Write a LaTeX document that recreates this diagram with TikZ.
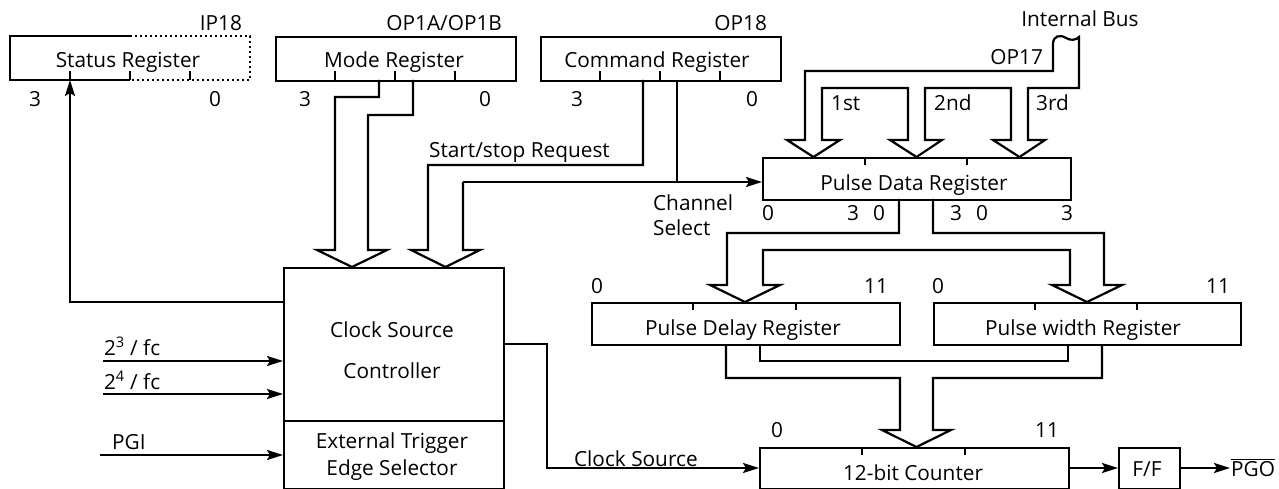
\documentclass[tikz,border=0pt]{standalone}
\usepackage{fontspec}
\setmainfont{Open Sans}
\usetikzlibrary{arrows.meta}
\newcommand\fs{\fontsize{20.8}{24}\selectfont}
\begin{document}
\begin{tikzpicture}[x=1pt,y=-1pt,line width=2.2pt,line join=miter,
  every node/.style={inner sep=0pt,font=\fs},
  reg/.style={draw,anchor=north west,minimum height=44pt},
  lab/.style={anchor=base},
  labw/.style={anchor=base west},
  labe/.style={anchor=base east},
  arr/.style={-{Stealth[length=16pt,width=10pt,inset=3pt]}},
  dots/.style={dash pattern=on 2pt off 3pt}]
\useasboundingbox (0,0) rectangle (1279,489);

% ---------- Status register ----------
\node[anchor=north west,minimum width=240pt,minimum height=44pt] (sr) at (10,36) {};
\draw (130,36) -- (10,36) -- (10,80) -- (130,80);
\draw[dots] (130,36) -- (250,36) -- (250,80) -- (130,80);
\foreach \x in {70,130,190} \draw (\x,80) -- (\x,71);
\node[lab] (srt) at (128,68) {Status Register};
\node[labe] (ip18) at (243,31) {IP18};
\node[lab] (sr3) at (35,107) {3};
\node[lab] (sr0) at (215,107) {0};

% ---------- Mode register ----------
\node[reg,minimum width=240pt] (mr) at (275,36) {};
\foreach \x in {335,395,455} \draw (\x,80) -- (\x,71);
\node[lab] (mrt) at (394,68) {Mode Register};
\node[labe] (op1) at (503,31) {OP1A/OP1B};
\node[lab] (mr3) at (305,107) {3};
\node[lab] (mr0) at (485,107) {0};

% ---------- Command register ----------
\node[reg,minimum width=240pt] (cr) at (540,36) {};
\foreach \x in {600,660,720} \draw (\x,80) -- (\x,71);
\node[lab] (crt) at (657,68) {Command Register};
\node[labe] (op18) at (768,31) {OP18};
\node[lab] (cr3) at (577,107) {3};
\node[lab] (cr0) at (752,107) {0};

% ---------- Clock source controller ----------
\node[draw,anchor=north west,minimum width=220pt,minimum height=221pt] (csc) at (283,267) {};
\draw (283,421) -- (503,421);
\node[lab] (csc1) at (392,337) {Clock Source};
\node[lab] (csc2) at (392,378) {Controller};
\node[lab] (ets1) at (392,448) {External Trigger};
\node[lab] (ets2) at (392,475) {Edge Selector};

% ---------- Pulse data register ----------
\node[reg,minimum width=308pt,minimum height=42pt] (pdr) at (762,157) {};
\foreach \x in {865,967} \draw (\x,157) -- (\x,165);
\node[lab] (pdrt) at (914,191) {Pulse Data Register};
\foreach \x/\t [count=\i] in {768/0,853/3,879/0,956/3,982/0,1067/3}
  \node[lab] (pn\i) at (\x,221) {\t};

% ---------- Pulse delay / width registers ----------
\node[reg,minimum width=308pt,minimum height=42pt] (pdl) at (591,302) {};
\foreach \x in {693,796} \draw (\x,302) -- (\x,310);
\node[lab] (pdlt) at (743,335) {Pulse Delay Register};
\node[lab] (pdl0) at (597,293) {0};
\node[lab] (pdl11) at (876,293) {11};

\node[reg,minimum width=307pt,minimum height=42pt] (pwr) at (933,302) {};
\foreach \x in {1035,1137} \draw (\x,302) -- (\x,310);
\node[lab] (pwrt) at (1083,335) {Pulse width Register};
\node[lab] (pwr0) at (938,293) {0};
\node[lab] (pwr11) at (1218,293) {11};

% ---------- Counter and F/F ----------
\node[reg,minimum width=309pt,minimum height=41pt] (cnt) at (759,447) {};
\foreach \x in {862,965} \draw (\x,447) -- (\x,455);
\node[lab] (cntt) at (913,480) {12-bit Counter};
\node[lab] (cnt0) at (777,437) {0};
\node[lab] (cnt11) at (1047,437) {11};

\node[reg,minimum width=61pt,minimum height=41pt] (ff) at (1118,447) {};
\node[lab] (fft) at (1147,476) {F/F};
\node[labw] (pgo) at (1230,476) {$\overline{\mbox{PGO}}$};
\draw[arr] (1068,468) -- (ff.west |- 0,468);
\draw[arr] (1179,468) -- (pgo.west |- 0,468);

% ---------- Mode register bus ----------
\draw (379,80) -- (379,97) -- (335,97) -- (335,250) -- (317,250) -- (352,267)
      -- (387,250) -- (368,250) -- (368,115) -- (413,115) -- (413,80);

% ---------- Command register bus ----------
\draw (643,80) -- (643,165) -- (428,165) -- (428,250) -- (411,250) -- (445.5,267)
      -- (480,250) -- (463,250) -- (463,182);
\draw[arr] (463,182) -- (pdr.west |- 0,182);
\draw (677,80) -- (677,182);
\node[labw] (ssr) at (428,158) {Start/stop Request};
\node[labw] (chs1) at (652,211) {Channel};
\node[labw] (chs2) at (652,235) {Select};

% ---------- Status feedback ----------
\draw[arr] (csc.west |- 0,302) -- (70,302) -- (70,80);

% ---------- Inputs ----------
\draw[arr] (103,361) -- (csc.west |- 0,361);
\draw[arr] (103,394) -- (csc.west |- 0,394);
\draw[arr] (100,455) -- (csc.west |- 0,455);
\node[labw] (in1) at (103,355) {2\textsuperscript{3} / fc};
\node[labw] (in2) at (103,389) {2\textsuperscript{4} / fc};
\node[labw] (in3) at (111,449) {PGI};

% ---------- Clock source output ----------
\draw[arr] (503,344) -- (547,344) -- (547,468) -- (cnt.west |- 0,468);
\node[labw] (cslab) at (573,466) {Clock Source};

% ---------- Internal bus into pulse data register ----------
\draw (805,140) -- (805,71) -- (1053,71) -- (1053,44)
      .. controls (1053,36) and (1060,34) .. (1066,38)
      .. controls (1071,41) and (1076,40) .. (1079,37)
      -- (1079,88) -- (1028,88) -- (1028,140) -- (1045,140) -- (1019.5,157)
      -- (993,140) -- (1011,140) -- (1011,88) -- (925,88) -- (925,140)
      -- (942,140) -- (916.5,157) -- (890,140) -- (908,140) -- (908,88)
      -- (822,88) -- (822,140) -- (840,140) -- (813.5,157) -- (787,140) -- cycle;
\node[lab] (ibus) at (1080,27) {Internal Bus};
\node[labe] (op17) at (1044,65) {OP17};
\node[labw] (b1) at (830,111) {1st};
\node[labw] (b2) at (933,111) {2nd};
\node[labw] (b3) at (1035,111) {3rd};

% ---------- Pulse data register to delay/width ----------
\draw (899,199) -- (899,233) -- (727,233) -- (727,285) -- (710,285) -- (745,302)
      -- (780,285) -- (763,285) -- (763,250) -- (1070,250) -- (1070,285)
      -- (1052,285) -- (1087,302) -- (1122,285) -- (1104,285) -- (1104,233)
      -- (933,233) -- (933,199);

% ---------- Delay/width to counter ----------
\draw (760,344) -- (760,361) -- (1068,361) -- (1068,344);
\draw (726,344) -- (726,378) -- (900,378) -- (900,430) -- (882,430) -- (916.5,447)
      -- (951,430) -- (933,430) -- (933,378) -- (1102,378) -- (1102,344);
\end{tikzpicture}
\end{document}
